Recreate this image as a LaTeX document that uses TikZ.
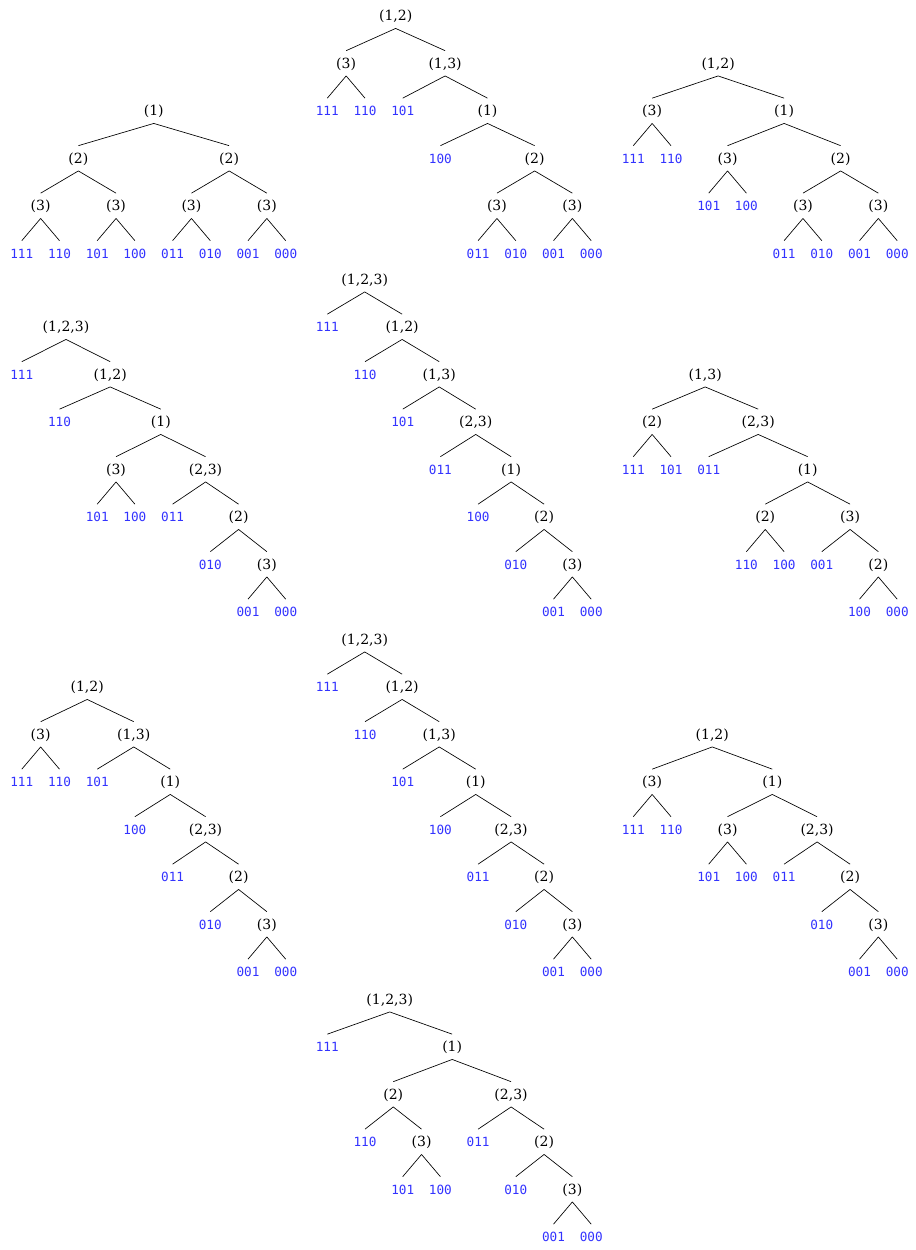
\documentclass[tikz,border=0pt]{standalone}
\usepackage{fontspec}
\setmainfont{DejaVu Serif}
\setmonofont{DejaVu Sans Mono}
\usepackage{tikz}
\usetikzlibrary{positioning}
\definecolor{bitblue}{RGB}{51,51,255}

\begin{document}
\begin{tikzpicture}[
    x=0.75pt, y=-0.75pt,
    line width=0.5pt,
    tnode/.style={anchor=base, inner sep=0pt, text height=12.75pt, text depth=5.7pt},
    split/.style={tnode, font=\fontsize{10.5}{12}\selectfont},
    bits/.style={tnode, font=\fontsize{9.5}{11}\selectfont\ttfamily, text=bitblue},
    tree/.style={x=28.275pt, y=-35.625pt}
  ]
  \useasboundingbox (0,0) rectangle (916,1250);

  % first row
  \begin{scope}[shift={(21.8,115.5)}, tree]
    \node[split] (a0) at (3.5,0) {(1)};
    \node[split] (a1) at (1.5,1) {(2)};
    \node[split] (a2) at (5.5,1) {(2)};
    \node[split] (a3) at (0.5,2) {(3)};
    \node[split] (a4) at (2.5,2) {(3)};
    \node[split] (a5) at (4.5,2) {(3)};
    \node[split] (a6) at (6.5,2) {(3)};
    \node[bits] (a7) at (0,3) {111};
    \node[bits] (a8) at (1,3) {110};
    \node[bits] (a9) at (2,3) {101};
    \node[bits] (a10) at (3,3) {100};
    \node[bits] (a11) at (4,3) {011};
    \node[bits] (a12) at (5,3) {010};
    \node[bits] (a13) at (6,3) {001};
    \node[bits] (a14) at (7,3) {000};
    \draw (a0.south) -- (a1.north) (a0.south) -- (a2.north)
      (a1.south) -- (a3.north) (a1.south) -- (a4.north)
      (a2.south) -- (a5.north) (a2.south) -- (a6.north)
      (a3.south) -- (a7.north) (a3.south) -- (a8.north)
      (a4.south) -- (a9.north) (a4.south) -- (a10.north)
      (a5.south) -- (a11.north) (a5.south) -- (a12.north)
      (a6.south) -- (a13.north) (a6.south) -- (a14.north);
  \end{scope}

  \begin{scope}[shift={(327.3,20.5)}, tree]
    \node[split] (b0) at (1.8125,0) {(1,2)};
    \node[split] (b1) at (0.5,1) {(3)};
    \node[split] (b2) at (3.125,1) {(1,3)};
    \node[bits] (b3) at (0,2) {111};
    \node[bits] (b4) at (1,2) {110};
    \node[bits] (b5) at (2,2) {101};
    \node[split] (b6) at (4.25,2) {(1)};
    \node[bits] (b7) at (3,3) {100};
    \node[split] (b8) at (5.5,3) {(2)};
    \node[split] (b9) at (4.5,4) {(3)};
    \node[split] (b10) at (6.5,4) {(3)};
    \node[bits] (b11) at (4,5) {011};
    \node[bits] (b12) at (5,5) {010};
    \node[bits] (b13) at (6,5) {001};
    \node[bits] (b14) at (7,5) {000};
    \draw (b0.south) -- (b1.north) (b0.south) -- (b2.north)
      (b1.south) -- (b3.north) (b1.south) -- (b4.north)
      (b2.south) -- (b5.north) (b2.south) -- (b6.north)
      (b6.south) -- (b7.north) (b6.south) -- (b8.north)
      (b8.south) -- (b9.north) (b8.south) -- (b10.north)
      (b9.south) -- (b11.north) (b9.south) -- (b12.north)
      (b10.south) -- (b13.north) (b10.south) -- (b14.north);
  \end{scope}

  \begin{scope}[shift={(633.3,68)}, tree]
    \node[split] (c0) at (2.25,0) {(1,2)};
    \node[split] (c1) at (0.5,1) {(3)};
    \node[split] (c2) at (4,1) {(1)};
    \node[bits] (c3) at (0,2) {111};
    \node[bits] (c4) at (1,2) {110};
    \node[split] (c5) at (2.5,2) {(3)};
    \node[split] (c6) at (5.5,2) {(2)};
    \node[bits] (c7) at (2,3) {101};
    \node[bits] (c8) at (3,3) {100};
    \node[split] (c9) at (4.5,3) {(3)};
    \node[split] (c10) at (6.5,3) {(3)};
    \node[bits] (c11) at (4,4) {011};
    \node[bits] (c12) at (5,4) {010};
    \node[bits] (c13) at (6,4) {001};
    \node[bits] (c14) at (7,4) {000};
    \draw (c0.south) -- (c1.north) (c0.south) -- (c2.north)
      (c1.south) -- (c3.north) (c1.south) -- (c4.north)
      (c2.south) -- (c5.north) (c2.south) -- (c6.north)
      (c5.south) -- (c7.north) (c5.south) -- (c8.north)
      (c6.south) -- (c9.north) (c6.south) -- (c10.north)
      (c9.south) -- (c11.north) (c9.south) -- (c12.north)
      (c10.south) -- (c13.north) (c10.south) -- (c14.north);
  \end{scope}

  % second row
  \begin{scope}[shift={(21.8,331.5)}, tree]
    \node[split] (d0) at (1.171875,0) {(1,2,3)};
    \node[bits] (d1) at (0,1) {111};
    \node[split] (d2) at (2.34375,1) {(1,2)};
    \node[bits] (d3) at (1,2) {110};
    \node[split] (d4) at (3.6875,2) {(1)};
    \node[split] (d5) at (2.5,3) {(3)};
    \node[split] (d6) at (4.875,3) {(2,3)};
    \node[bits] (d7) at (2,4) {101};
    \node[bits] (d8) at (3,4) {100};
    \node[bits] (d9) at (4,4) {011};
    \node[split] (d10) at (5.75,4) {(2)};
    \node[bits] (d11) at (5,5) {010};
    \node[split] (d12) at (6.5,5) {(3)};
    \node[bits] (d13) at (6,6) {001};
    \node[bits] (d14) at (7,6) {000};
    \draw (d0.south) -- (d1.north) (d0.south) -- (d2.north)
      (d2.south) -- (d3.north) (d2.south) -- (d4.north)
      (d4.south) -- (d5.north) (d4.south) -- (d6.north)
      (d5.south) -- (d7.north) (d5.south) -- (d8.north)
      (d6.south) -- (d9.north) (d6.south) -- (d10.north)
      (d10.south) -- (d11.north) (d10.south) -- (d12.north)
      (d12.south) -- (d13.north) (d12.south) -- (d14.north);
  \end{scope}

  \begin{scope}[shift={(327.3,284)}, tree]
    \node[split] (e0) at (0.9921875,0) {(1,2,3)};
    \node[bits] (e1) at (0,1) {111};
    \node[split] (e2) at (1.984375,1) {(1,2)};
    \node[bits] (e3) at (1,2) {110};
    \node[split] (e4) at (2.96875,2) {(1,3)};
    \node[bits] (e5) at (2,3) {101};
    \node[split] (e6) at (3.9375,3) {(2,3)};
    \node[bits] (e7) at (3,4) {011};
    \node[split] (e8) at (4.875,4) {(1)};
    \node[bits] (e9) at (4,5) {100};
    \node[split] (e10) at (5.75,5) {(2)};
    \node[bits] (e11) at (5,6) {010};
    \node[split] (e12) at (6.5,6) {(3)};
    \node[bits] (e13) at (6,7) {001};
    \node[bits] (e14) at (7,7) {000};
    \draw (e0.south) -- (e1.north) (e0.south) -- (e2.north)
      (e2.south) -- (e3.north) (e2.south) -- (e4.north)
      (e4.south) -- (e5.north) (e4.south) -- (e6.north)
      (e6.south) -- (e7.north) (e6.south) -- (e8.north)
      (e8.south) -- (e9.north) (e8.south) -- (e10.north)
      (e10.south) -- (e11.north) (e10.south) -- (e12.north)
      (e12.south) -- (e13.north) (e12.south) -- (e14.north);
  \end{scope}

  \begin{scope}[shift={(633.3,379)}, tree]
    \node[split] (f0) at (1.90625,0) {(1,3)};
    \node[split] (f1) at (0.5,1) {(2)};
    \node[split] (f2) at (3.3125,1) {(2,3)};
    \node[bits] (f3) at (0,2) {111};
    \node[bits] (f4) at (1,2) {101};
    \node[bits] (f5) at (2,2) {011};
    \node[split] (f6) at (4.625,2) {(1)};
    \node[split] (f7) at (3.5,3) {(2)};
    \node[split] (f8) at (5.75,3) {(3)};
    \node[bits] (f9) at (3,4) {110};
    \node[bits] (f10) at (4,4) {100};
    \node[bits] (f11) at (5,4) {001};
    \node[split] (f12) at (6.5,4) {(2)};
    \node[bits] (f13) at (6,5) {100};
    \node[bits] (f14) at (7,5) {000};
    \draw (f0.south) -- (f1.north) (f0.south) -- (f2.north)
      (f1.south) -- (f3.north) (f1.south) -- (f4.north)
      (f2.south) -- (f5.north) (f2.south) -- (f6.north)
      (f6.south) -- (f7.north) (f6.south) -- (f8.north)
      (f7.south) -- (f9.north) (f7.south) -- (f10.north)
      (f8.south) -- (f11.north) (f8.south) -- (f12.north)
      (f12.south) -- (f13.north) (f12.south) -- (f14.north);
  \end{scope}

  % third row
  \begin{scope}[shift={(21.8,691.5)}, tree]
    \node[split] (g0) at (1.734375,0) {(1,2)};
    \node[split] (g1) at (0.5,1) {(3)};
    \node[split] (g2) at (2.96875,1) {(1,3)};
    \node[bits] (g3) at (0,2) {111};
    \node[bits] (g4) at (1,2) {110};
    \node[bits] (g5) at (2,2) {101};
    \node[split] (g6) at (3.9375,2) {(1)};
    \node[bits] (g7) at (3,3) {100};
    \node[split] (g8) at (4.875,3) {(2,3)};
    \node[bits] (g9) at (4,4) {011};
    \node[split] (g10) at (5.75,4) {(2)};
    \node[bits] (g11) at (5,5) {010};
    \node[split] (g12) at (6.5,5) {(3)};
    \node[bits] (g13) at (6,6) {001};
    \node[bits] (g14) at (7,6) {000};
    \draw (g0.south) -- (g1.north) (g0.south) -- (g2.north)
      (g1.south) -- (g3.north) (g1.south) -- (g4.north)
      (g2.south) -- (g5.north) (g2.south) -- (g6.north)
      (g6.south) -- (g7.north) (g6.south) -- (g8.north)
      (g8.south) -- (g9.north) (g8.south) -- (g10.north)
      (g10.south) -- (g11.north) (g10.south) -- (g12.north)
      (g12.south) -- (g13.north) (g12.south) -- (g14.north);
  \end{scope}

  \begin{scope}[shift={(327.3,644)}, tree]
    \node[split] (h0) at (0.9921875,0) {(1,2,3)};
    \node[bits] (h1) at (0,1) {111};
    \node[split] (h2) at (1.984375,1) {(1,2)};
    \node[bits] (h3) at (1,2) {110};
    \node[split] (h4) at (2.96875,2) {(1,3)};
    \node[bits] (h5) at (2,3) {101};
    \node[split] (h6) at (3.9375,3) {(1)};
    \node[bits] (h7) at (3,4) {100};
    \node[split] (h8) at (4.875,4) {(2,3)};
    \node[bits] (h9) at (4,5) {011};
    \node[split] (h10) at (5.75,5) {(2)};
    \node[bits] (h11) at (5,6) {010};
    \node[split] (h12) at (6.5,6) {(3)};
    \node[bits] (h13) at (6,7) {001};
    \node[bits] (h14) at (7,7) {000};
    \draw (h0.south) -- (h1.north) (h0.south) -- (h2.north)
      (h2.south) -- (h3.north) (h2.south) -- (h4.north)
      (h4.south) -- (h5.north) (h4.south) -- (h6.north)
      (h6.south) -- (h7.north) (h6.south) -- (h8.north)
      (h8.south) -- (h9.north) (h8.south) -- (h10.north)
      (h10.south) -- (h11.north) (h10.south) -- (h12.north)
      (h12.south) -- (h13.north) (h12.south) -- (h14.north);
  \end{scope}

  \begin{scope}[shift={(633.3,739)}, tree]
    \node[split] (i0) at (2.09375,0) {(1,2)};
    \node[split] (i1) at (0.5,1) {(3)};
    \node[split] (i2) at (3.6875,1) {(1)};
    \node[bits] (i3) at (0,2) {111};
    \node[bits] (i4) at (1,2) {110};
    \node[split] (i5) at (2.5,2) {(3)};
    \node[split] (i6) at (4.875,2) {(2,3)};
    \node[bits] (i7) at (2,3) {101};
    \node[bits] (i8) at (3,3) {100};
    \node[bits] (i9) at (4,3) {011};
    \node[split] (i10) at (5.75,3) {(2)};
    \node[bits] (i11) at (5,4) {010};
    \node[split] (i12) at (6.5,4) {(3)};
    \node[bits] (i13) at (6,5) {001};
    \node[bits] (i14) at (7,5) {000};
    \draw (i0.south) -- (i1.north) (i0.south) -- (i2.north)
      (i1.south) -- (i3.north) (i1.south) -- (i4.north)
      (i2.south) -- (i5.north) (i2.south) -- (i6.north)
      (i5.south) -- (i7.north) (i5.south) -- (i8.north)
      (i6.south) -- (i9.north) (i6.south) -- (i10.north)
      (i10.south) -- (i11.north) (i10.south) -- (i12.north)
      (i12.south) -- (i13.north) (i12.south) -- (i14.north);
  \end{scope}

  % last row
  \begin{scope}[shift={(327.3,1004)}, tree]
    \node[split] (j0) at (1.65625,0) {(1,2,3)};
    \node[bits] (j1) at (0,1) {111};
    \node[split] (j2) at (3.3125,1) {(1)};
    \node[split] (j3) at (1.75,2) {(2)};
    \node[split] (j4) at (4.875,2) {(2,3)};
    \node[bits] (j5) at (1,3) {110};
    \node[split] (j6) at (2.5,3) {(3)};
    \node[bits] (j7) at (4,3) {011};
    \node[split] (j8) at (5.75,3) {(2)};
    \node[bits] (j9) at (2,4) {101};
    \node[bits] (j10) at (3,4) {100};
    \node[bits] (j11) at (5,4) {010};
    \node[split] (j12) at (6.5,4) {(3)};
    \node[bits] (j13) at (6,5) {001};
    \node[bits] (j14) at (7,5) {000};
    \draw (j0.south) -- (j1.north) (j0.south) -- (j2.north)
      (j2.south) -- (j3.north) (j2.south) -- (j4.north)
      (j3.south) -- (j5.north) (j3.south) -- (j6.north)
      (j4.south) -- (j7.north) (j4.south) -- (j8.north)
      (j6.south) -- (j9.north) (j6.south) -- (j10.north)
      (j8.south) -- (j11.north) (j8.south) -- (j12.north)
      (j12.south) -- (j13.north) (j12.south) -- (j14.north);
  \end{scope}
\end{tikzpicture}
\end{document}
